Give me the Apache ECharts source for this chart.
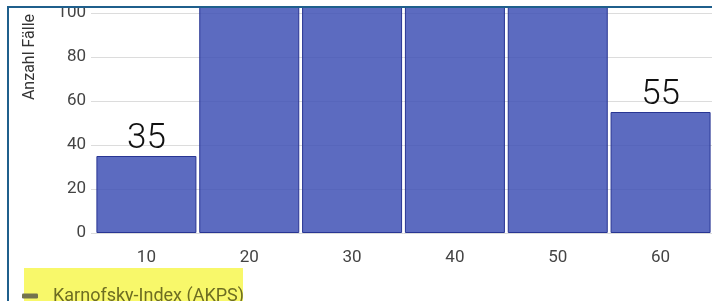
<!DOCTYPE html>
<html>
<head>
<meta charset="utf-8">
<script src="https://cdn.jsdelivr.net/npm/echarts@6/dist/echarts.min.js"></script>
<style>
html,body{margin:0;padding:0;background:#fff;overflow:hidden;}
#wrap{position:relative;width:712px;height:301px;overflow:hidden;}
#chart{position:absolute;left:0;top:-230px;width:712px;height:531px;}
#maskTop{position:absolute;left:0;top:0;width:712px;height:6px;background:#fff;}
#maskLeft{position:absolute;left:0;top:0;width:7px;height:301px;background:#fff;}
#frame{position:absolute;left:7px;top:6px;width:720px;height:320px;border-left:2px solid #1f5f8c;border-top:2px solid #1f5f8c;pointer-events:none;}
</style>
</head>
<body>
<div id="wrap">
<div id="chart"></div>
<div id="maskTop"></div>
<div id="maskLeft"></div>
<div id="frame"></div>
</div>
<script>
const categories = ['10', '20', '30', '40', '50', '60'];
const counts = [35, 130, 160, 150, 120, 55];
const seriesName = 'Karnofsky-Index (AKPS)';
const yAxisTitle = 'Anzahl Fälle';
const labelledValues = [35, 55];

const OFF = 230; // chart is shifted up by this many pixels (top part cropped like the reference)
const chart = echarts.init(document.getElementById('chart'), null, {renderer: 'canvas'});
chart.setOption({
  animation: false,
  backgroundColor: 'transparent',
  grid: {left: 95, right: -7, top: 23, bottom: 68, containLabel: false},
  legend: {
    show: true,
    left: 22,
    top: 287 + OFF,
    padding: 0,
    itemWidth: 16,
    itemHeight: 5,
    itemGap: 10,
    icon: 'roundRect',
    data: [{name: seriesName, itemStyle: {color: '#73734e', borderWidth: 0}}],
    textStyle: {color: '#6d6d22', fontSize: 18, fontFamily: 'Roboto', padding: [0, 0, 0, 10]}
  },
  graphic: [
    {type: 'rect', z: 0, shape: {x: 24, y: 268 + OFF, width: 219, height: 33}, style: {fill: '#f8f86a'}},
    {type: 'text', z: 5, x: 30, y: 57 + OFF, rotation: Math.PI / 2,
     style: {text: yAxisTitle, fill: '#333', fontSize: 16, fontFamily: 'Roboto', align: 'center', verticalAlign: 'middle'}}
  ],
  xAxis: {
    type: 'category',
    data: categories,
    axisLine: {show: false},
    axisTick: {show: false},
    axisLabel: {color: '#444', fontSize: 17, fontFamily: 'Roboto', margin: 16}
  },
  yAxis: {
    type: 'value',
    min: 0, max: 200, interval: 20,
    axisLine: {show: false},
    axisTick: {show: true, length: 4, lineStyle: {color: '#dcdcdc'}},
    splitLine: {lineStyle: {color: '#dcdcdc', width: 1}},
    axisLabel: {color: '#444', fontSize: 17, fontFamily: 'Roboto', margin: 9}
  },
  series: [{
    name: seriesName,
    type: 'bar',
    data: counts,
    barWidth: 100,
    itemStyle: {color: 'rgba(63,81,181,0.85)', borderColor: '#283593', borderWidth: 1},
    label: {
      show: true,
      position: 'top',
      distance: -1,
      color: '#111',
      fontSize: 35,
      fontFamily: 'Roboto',
      fontWeight: 300,
      formatter: p => labelledValues.includes(p.value) ? String(p.value) : ''
    }
  }]
});
</script>
</body>
</html>
